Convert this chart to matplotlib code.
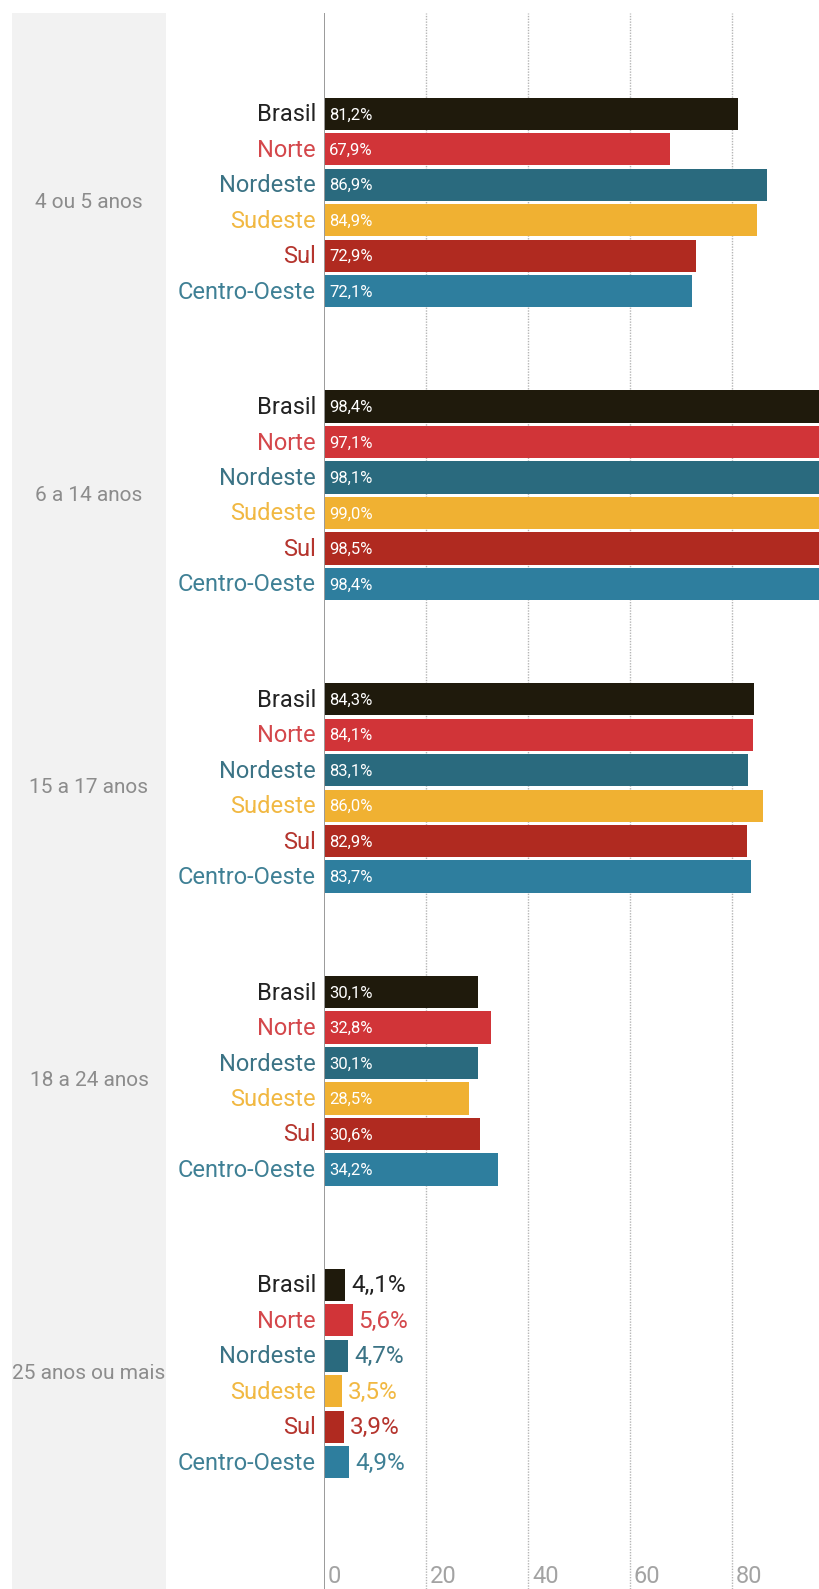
import matplotlib
matplotlib.use("Agg")
import matplotlib.pyplot as plt
from matplotlib.patches import Rectangle
import matplotlib.transforms as mtransforms

# ---- data ----
age_groups = ["4 ou 5 anos", "6 a 14 anos", "15 a 17 anos", "18 a 24 anos", "25 anos ou mais"]
regions = ["Brasil", "Norte", "Nordeste", "Sudeste", "Sul", "Centro-Oeste"]
values = [
    [81.2, 67.9, 86.9, 84.9, 72.9, 72.1],
    [98.4, 97.1, 98.1, 99.0, 98.5, 98.4],
    [84.3, 84.1, 83.1, 86.0, 82.9, 83.7],
    [30.1, 32.8, 30.1, 28.5, 30.6, 34.2],
    [4.1, 5.6, 4.7, 3.5, 3.9, 4.9],
]
value_labels = [
    ["81,2%", "67,9%", "86,9%", "84,9%", "72,9%", "72,1%"],
    ["98,4%", "97,1%", "98,1%", "99,0%", "98,5%", "98,4%"],
    ["84,3%", "84,1%", "83,1%", "86,0%", "82,9%", "83,7%"],
    ["30,1%", "32,8%", "30,1%", "28,5%", "30,6%", "34,2%"],
    ["4,,1%", "5,6%", "4,7%", "3,5%", "3,9%", "4,9%"],
]
xticks = [0, 20, 40, 60, 80]

# ---- style ----
bar_colors = ["#1f1a0c", "#d13438", "#2a6a7e", "#f0b132", "#b02a20", "#2e7e9e"]
label_colors = ["#222222", "#d4474b", "#3b7385", "#f1b842", "#b5352e", "#3f8095"]
FONT = ["Roboto", "DejaVu Sans"]

W, H = 820, 1589
fig = plt.figure(figsize=(W / 100, H / 100), dpi=100)
fig.patch.set_facecolor("white")

# gray panel on the left (background axes so it sits under everything)
bg = fig.add_axes([0, 0, 1, 1], zorder=-5)
bg.set_xlim(0, W)
bg.set_ylim(H, 0)
bg.axis("off")
bg.add_patch(Rectangle((12, 13), 166 - 12, H - 13, facecolor="#f2f2f2",
                       edgecolor="none"))

x0_px, top_px = 324, 13
px_per_unit = 5.1
ax = fig.add_axes([x0_px / W, 0, (W - x0_px) / W, (H - top_px) / H], zorder=1)
ax.set_xlim(0, (W - x0_px) / px_per_unit)
ax.set_ylim(H, top_px)
ax.set_facecolor("none")
ax.axis("off")

# gridlines
for t in xticks[1:]:
    ax.axvline(t, color="#b5b5b5", lw=1.0, ls=(0, (1, 1)), zorder=1)
ax.axvline(0, color="#9a9a9a", lw=1.4, zorder=3)

first_top = 97.7
group_pitch = 292.75
bar_pitch = 35.46
bar_h = 32.3

left_off = mtransforms.offset_copy(ax.transData, fig, x=-8, y=0, units="dots")
in_off = mtransforms.offset_copy(ax.transData, fig, x=5, y=0, units="dots")
out_off = mtransforms.offset_copy(ax.transData, fig, x=6, y=0, units="dots")
fig_y = mtransforms.blended_transform_factory(fig.transFigure, ax.transData)

for g, grp in enumerate(age_groups):
    gtop = first_top + g * group_pitch
    centers = [gtop + j * bar_pitch + bar_h / 2 for j in range(len(regions))]
    ax.barh(centers, values[g], height=bar_h, color=bar_colors, zorder=2,
            edgecolor="none")
    for j, reg in enumerate(regions):
        y = centers[j]
        ax.text(0, y + 1, reg, transform=left_off, ha="right", va="center",
                fontsize=17, color=label_colors[j], family=FONT, clip_on=False)
        if g < len(age_groups) - 1:
            ax.text(0, y + 1, value_labels[g][j], transform=in_off, ha="left",
                    va="center", fontsize=12, color="white", family=FONT,
                    zorder=4)
        else:
            ax.text(values[g][j], y + 1, value_labels[g][j], transform=out_off,
                    ha="left", va="center", fontsize=17.5, color=label_colors[j],
                    family=FONT, zorder=4)
    gcenter = gtop + (5 * bar_pitch + bar_h) / 2
    ax.text(89 / W, gcenter, grp, transform=fig_y, ha="center", va="center",
            fontsize=15, color="#8c8c8c", family=FONT, clip_on=False)

# tick labels at bottom
tick_tr = mtransforms.offset_copy(
    mtransforms.blended_transform_factory(ax.transData, ax.transAxes),
    fig, x=4, y=1, units="dots")
for t in xticks:
    ax.text(t, 0, str(t), transform=tick_tr, ha="left", va="bottom",
            fontsize=17, color="#a3a3a3", family=FONT)

fig.savefig("out.png", dpi=100, facecolor="white")
